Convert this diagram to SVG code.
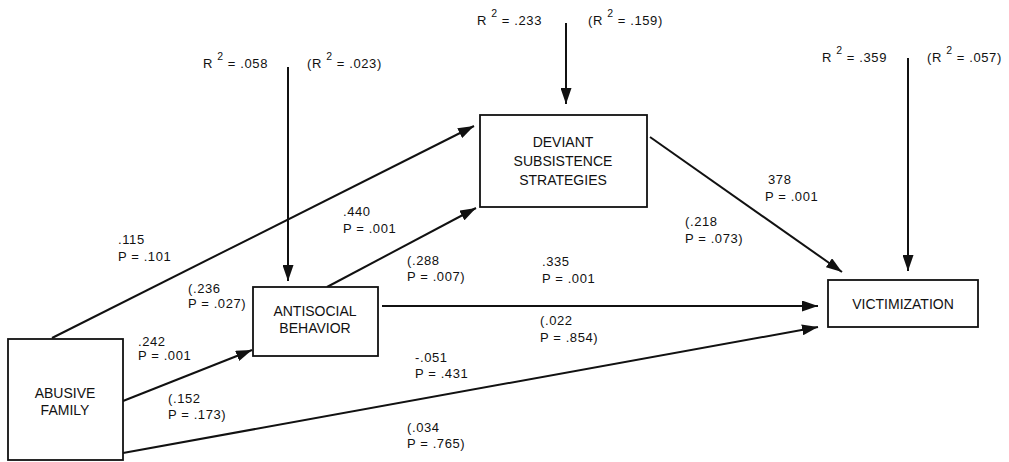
<svg xmlns="http://www.w3.org/2000/svg" width="1009" height="462" viewBox="0 0 1009 462">
<style>
.box{fill:#fff;stroke:#111;stroke-width:1.8}
.node{font-family:"Liberation Sans",Arial,sans-serif;font-size:14px;fill:#111;text-anchor:middle}
.lbl{font-family:"Liberation Sans",Arial,sans-serif;font-size:13px;fill:#111;letter-spacing:0.6px}
.sup{font-size:10.5px}
.ln{stroke:#111;stroke-width:2;fill:none;marker-end:url(#ah)}
</style>
<defs>
<marker id="ah" markerUnits="userSpaceOnUse" markerWidth="16" markerHeight="11" refX="16" refY="5.5" orient="auto">
<path d="M0,0 L16,5.5 L0,11 z" fill="#111"/>
</marker>
</defs>
<rect width="1009" height="462" fill="#fff"/>
<g id="connectors">
<line class="ln" x1="52" y1="338" x2="474" y2="126"/>
<line class="ln" x1="123" y1="401" x2="252" y2="350"/>
<line class="ln" x1="123" y1="453" x2="818" y2="327"/>
<line class="ln" x1="382" y1="306" x2="818" y2="306"/>
<line class="ln" x1="327" y1="287" x2="476" y2="208"/>
<line class="ln" x1="650" y1="137" x2="842" y2="272"/>
<line class="ln" x1="288" y1="67" x2="288" y2="281"/>
<line class="ln" x1="566" y1="23" x2="566" y2="104"/>
<line class="ln" x1="908" y1="58" x2="908" y2="271"/>
</g>
<g id="abusive-family">
<rect class="box" x="8" y="339" width="115" height="121"/>
<text class="node" x="65" y="398">ABUSIVE</text>
<text class="node" x="65" y="415">FAMILY</text>
</g>
<g id="antisocial-behavior">
<rect class="box" x="253" y="287" width="125" height="69"/>
<text class="node" x="315" y="316">ANTISOCIAL</text>
<text class="node" x="315" y="333">BEHAVIOR</text>
</g>
<g id="deviant-subsistence">
<rect class="box" x="480" y="115" width="167" height="92"/>
<text class="node" x="563" y="147">DEVIANT</text>
<text class="node" x="563" y="166">SUBSISTENCE</text>
<text class="node" x="563" y="185">STRATEGIES</text>
</g>
<g id="victimization">
<rect class="box" x="828" y="280" width="150" height="47"/>
<text class="node" x="903" y="309">VICTIMIZATION</text>
</g>
<g id="labels">
<text class="lbl" x="203" y="68">R <tspan class="sup" dy="-8">2</tspan><tspan dy="8"> = .058</tspan></text>
<text class="lbl" x="307" y="68">(R <tspan class="sup" dy="-8">2</tspan><tspan dy="8"> = .023)</tspan></text>
<text class="lbl" x="477" y="25">R <tspan class="sup" dy="-8">2</tspan><tspan dy="8"> = .233</tspan></text>
<text class="lbl" x="588" y="25">(R <tspan class="sup" dy="-8">2</tspan><tspan dy="8"> = .159)</tspan></text>
<text class="lbl" x="822" y="62">R <tspan class="sup" dy="-8">2</tspan><tspan dy="8"> = .359</tspan></text>
<text class="lbl" x="927" y="62">(R <tspan class="sup" dy="-8">2</tspan><tspan dy="8"> = .057)</tspan></text>
<text class="lbl" x="118" y="244">.115</text>
<text class="lbl" x="118" y="261">P  = .101</text>
<text class="lbl" x="188" y="293">(.236</text>
<text class="lbl" x="188" y="308">P  = .027)</text>
<text class="lbl" x="343" y="216">.440</text>
<text class="lbl" x="343" y="233">P = .001</text>
<text class="lbl" x="407" y="265">(.288</text>
<text class="lbl" x="407" y="281">P = .007)</text>
<text class="lbl" x="542" y="266">.335</text>
<text class="lbl" x="542" y="283">P  = .001</text>
<text class="lbl" x="540" y="325">(.022</text>
<text class="lbl" x="540" y="342">P  = .854)</text>
<text class="lbl" x="415" y="362">-.051</text>
<text class="lbl" x="415" y="378">P = .431</text>
<text class="lbl" x="407" y="432">(.034</text>
<text class="lbl" x="407" y="448">P = .765)</text>
<text class="lbl" x="138" y="346">.242</text>
<text class="lbl" x="138" y="360">P = .001</text>
<text class="lbl" x="168" y="403">(.152</text>
<text class="lbl" x="168" y="419">P  = .173)</text>
<text class="lbl" x="768" y="184">378</text>
<text class="lbl" x="765" y="201">P  = .001</text>
<text class="lbl" x="685" y="226">(.218</text>
<text class="lbl" x="685" y="243">P  = .073)</text>
</g>
</svg>
